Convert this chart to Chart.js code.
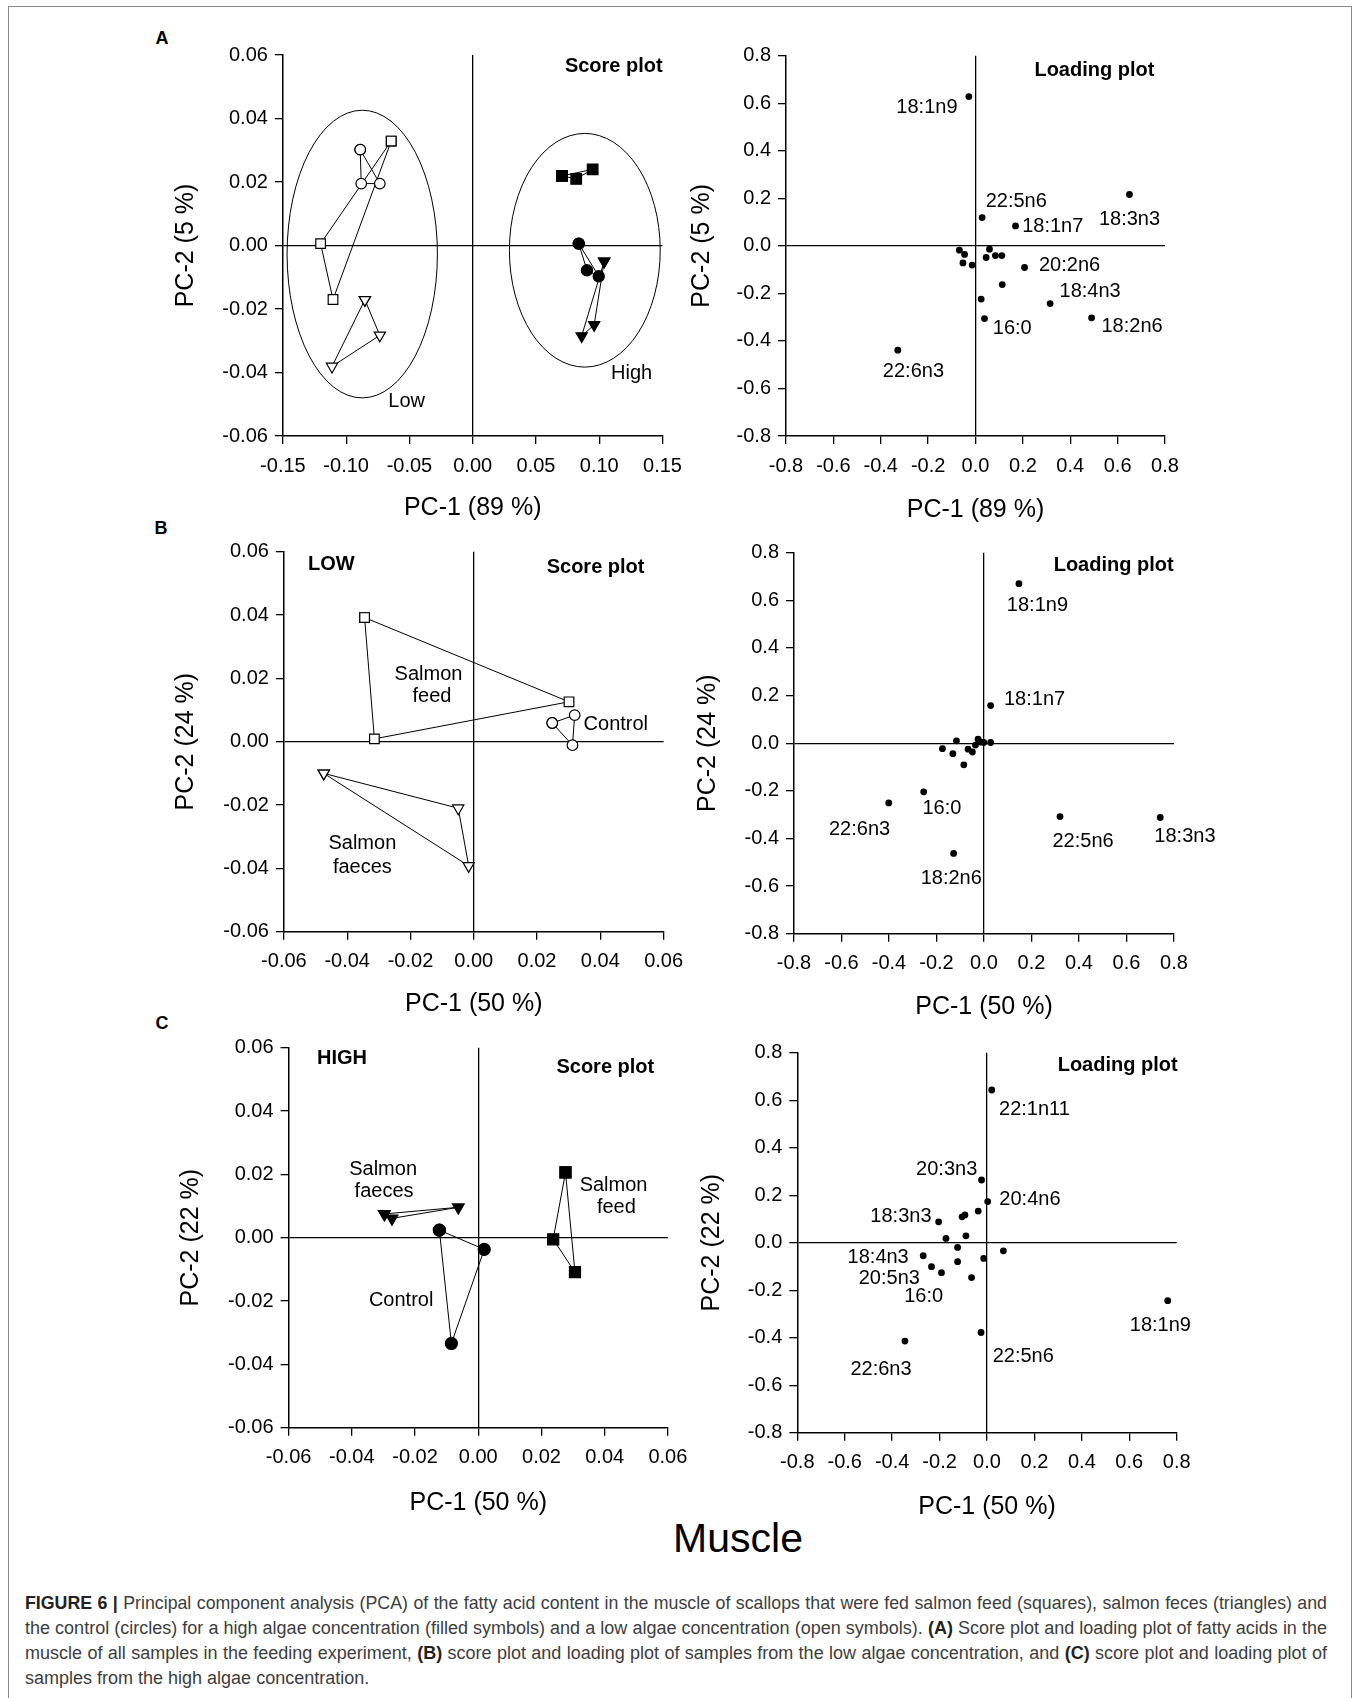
<!DOCTYPE html>
<html><head><meta charset="utf-8">
<script src="https://cdn.jsdelivr.net/npm/chart.js@4.4.1/dist/chart.umd.min.js"></script>
<style>
html,body{margin:0;padding:0;background:#fff;}
#page{position:relative;width:1362px;height:1698px;overflow:hidden;font-family:"Liberation Sans",Arial,sans-serif;background:#fff;}
canvas{position:absolute;}
.frame{position:absolute;left:8px;top:6px;width:1344px;height:1720px;border:1.5px solid #8a8a8a;box-sizing:border-box;}
.letter{position:absolute;font-weight:bold;font-size:18px;transform:translate(-50%,-50%);color:#000;}
.muscle{position:absolute;font-size:41px;left:738px;top:1538px;transform:translate(-50%,-50%);white-space:nowrap;color:#000;}
.cap{position:absolute;left:25px;width:1302px;font-size:18px;line-height:25px;color:#3d3d3d;text-align:justify;text-align-last:justify;}
.cap.last{text-align:left;text-align-last:left;}
.cap b{color:#222;}
</style></head>
<body>
<div id="page">
<div class="frame"></div>
<div class="letter" style="left:162px;top:38px">A</div>
<div class="letter" style="left:161px;top:528px">B</div>
<div class="letter" style="left:162px;top:1023px">C</div>
<div class="muscle">Muscle</div>
<div class="cap" style="top:1591px"><b>FIGURE 6 |</b> Principal component analysis (PCA) of the fatty acid content in the muscle of scallops that were fed salmon feed (squares), salmon feces (triangles) and</div>
<div class="cap" style="top:1616px">the control (circles) for a high algae concentration (filled symbols) and a low algae concentration (open symbols). <b>(A)</b> Score plot and loading plot of fatty acids in the</div>
<div class="cap" style="top:1641px">muscle of all samples in the feeding experiment, <b>(B)</b> score plot and loading plot of samples from the low algae concentration, and <b>(C)</b> score plot and loading plot of</div>
<div class="cap last" style="top:1666px">samples from the high algae concentration.</div>
</div>
<script>
// ================= DATA =================
// Tick values
const scoreATicksX = [-0.15, -0.10, -0.05, 0.00, 0.05, 0.10, 0.15];
const scoreTicksY = [-0.06, -0.04, -0.02, 0.00, 0.02, 0.04, 0.06];
const scoreBCTicksX = [-0.06, -0.04, -0.02, 0.00, 0.02, 0.04, 0.06];
const loadTicks = [-0.8, -0.6, -0.4, -0.2, 0.0, 0.2, 0.4, 0.6, 0.8];

// Panel A score plot (all samples): Low (open) and High (filled)
const A_feedLowX = [-0.0644, -0.1202, -0.1104];
const A_feedLowY = [0.0329, 0.0006, -0.0170];
const A_ctrlLowX = [-0.0889, -0.0881, -0.0734];
const A_ctrlLowY = [0.0302, 0.0195, 0.0195];
const A_faecLowX = [-0.0852, -0.0734, -0.1112];
const A_faecLowY = [-0.0171, -0.0283, -0.0381];
const A_feedHighX = [0.0706, 0.0818, 0.0948];
const A_feedHighY = [0.0219, 0.0210, 0.0240];
const A_ctrlHighX = [0.0838, 0.0903, 0.0996];
const A_ctrlHighY = [0.0006, -0.0078, -0.0097];
const A_faecHighX = [0.1039, 0.0861, 0.0960];
const A_faecHighY = [-0.0050, -0.0285, -0.0250];
// Group ellipses (Low, High)
const A_ellCX = [-0.0873, 0.0886];
const A_ellCY = [-0.0027, -0.0015];
const A_ellRX = [0.0594, 0.0596];
const A_ellRY = [0.0453, 0.0368];

// Panel A loading plot
const A_loadX = [-0.028, 0.028, 0.169, 0.650, -0.068, -0.046, -0.053, -0.014, 0.059, 0.045, 0.084, 0.111, 0.207, 0.113, 0.024, 0.038, 0.315, 0.490, -0.328];
const A_loadY = [0.628, 0.119, 0.084, 0.216, -0.018, -0.036, -0.072, -0.081, -0.014, -0.049, -0.041, -0.041, -0.091, -0.163, -0.224, -0.306, -0.243, -0.303, -0.439];
const A_loadLabels = ["18:1n9", "22:5n6", "18:1n7", "18:3n3", "20:2n6", "18:4n3", "16:0", "18:2n6", "22:6n3"];
const A_loadLabelX = [-0.205, 0.172, 0.326, 0.650, 0.397, 0.484, 0.155, 0.661, -0.262];
const A_loadLabelY = [0.582, 0.185, 0.083, 0.111, -0.081, -0.194, -0.348, -0.341, -0.530];

// Panel B score plot (low algae, open symbols)
const B_feedX = [-0.0345, 0.0301, -0.0314];
const B_feedY = [0.0392, 0.0126, 0.0009];
const B_ctrlX = [0.0248, 0.0319, 0.0312];
const B_ctrlY = [0.0059, 0.0084, -0.0011];
const B_faecX = [-0.0474, -0.0049, -0.0016];
const B_faecY = [-0.0100, -0.0210, -0.0392];

// Panel B loading plot
const B_loadX = [0.147, 0.028, -0.116, -0.175, -0.131, -0.067, -0.049, -0.036, -0.025, -0.015, -0.001, 0.028, -0.085, -0.254, -0.401, -0.128, 0.320, 0.742];
const B_loadY = [0.670, 0.158, 0.010, -0.023, -0.044, -0.025, -0.037, -0.008, 0.017, 0.005, 0.003, 0.003, -0.091, -0.204, -0.251, -0.463, -0.308, -0.312];
const B_loadLabels = ["18:1n9", "18:1n7", "16:0", "22:6n3", "18:2n6", "22:5n6", "18:3n3"];
const B_loadLabelX = [0.225, 0.213, -0.177, -0.524, -0.138, 0.417, 0.846];
const B_loadLabelY = [0.577, 0.185, -0.274, -0.361, -0.568, -0.414, -0.392];

// Panel C score plot (high algae, filled symbols)
const C_feedX = [0.0276, 0.0237, 0.0306];
const C_feedY = [0.0206, -0.0005, -0.0109];
const C_ctrlX = [-0.0123, 0.0019, -0.0085];
const C_ctrlY = [0.0024, -0.0037, -0.0334];
const C_faecX = [-0.0297, -0.0273, -0.0063];
const C_faecY = [0.0075, 0.0061, 0.0096];

// Panel C loading plot
const C_loadX = [0.020, -0.023, 0.003, -0.037, -0.105, -0.093, -0.204, -0.173, -0.089, -0.124, 0.069, -0.269, -0.124, -0.014, -0.234, -0.192, -0.065, -0.025, -0.346, 0.762];
const C_loadY = [0.643, 0.264, 0.173, 0.133, 0.109, 0.117, 0.088, 0.018, 0.029, -0.020, -0.034, -0.055, -0.080, -0.066, -0.101, -0.126, -0.147, -0.378, -0.414, -0.244];
const C_loadLabels = ["22:1n11", "20:3n3", "20:4n6", "18:3n3", "18:4n3", "20:5n3", "16:0", "22:6n3", "22:5n6", "18:1n9"];
const C_loadLabelX = [0.200, -0.170, 0.181, -0.363, -0.459, -0.412, -0.267, -0.447, 0.153, 0.731];
const C_loadLabelY = [0.561, 0.310, 0.180, 0.112, -0.063, -0.150, -0.227, -0.532, -0.477, -0.347];

// ================= RENDERING =================
const FONT = '"Liberation Sans", Arial, sans-serif';
const page = document.getElementById('page');
function fmt(d) { return v => (Math.abs(v) < 1e-9 ? 0 : v).toFixed(d); }
function pts(xs, ys) { return xs.map((x, i) => ({x: x, y: ys[i]})); }
function closed(xs, ys) { const p = pts(xs, ys); return p.concat([p[0]]); }
function labelItems(texts, xs, ys, bold) { return texts.map((t, i) => ({t: t, x: xs[i], y: ys[i], bold: !!bold})); }

function textPlugin(items) {
  return { id: 'panelText', afterDatasetsDraw(chart) {
    const ctx = chart.ctx, sx = chart.scales.x, sy = chart.scales.y;
    ctx.save(); ctx.fillStyle = '#000'; ctx.textAlign = 'center'; ctx.textBaseline = 'middle';
    items.forEach(it => {
      ctx.font = (it.bold ? 'bold ' : '') + '20px ' + FONT;
      ctx.fillText(it.t, sx.getPixelForValue(it.x), sy.getPixelForValue(it.y));
    });
    ctx.restore();
  }};
}
function ellipsePlugin(cx, cy, rx, ry) {
  return { id: 'ellipses', beforeDatasetsDraw(chart) {
    const ctx = chart.ctx, sx = chart.scales.x, sy = chart.scales.y;
    ctx.save(); ctx.strokeStyle = '#000'; ctx.lineWidth = 1;
    cx.forEach((c, i) => {
      const px = sx.getPixelForValue(c), py = sy.getPixelForValue(cy[i]);
      const prx = Math.abs(sx.getPixelForValue(c + rx[i]) - px);
      const pry = Math.abs(sy.getPixelForValue(cy[i] + ry[i]) - py);
      ctx.beginPath(); ctx.ellipse(px, py, prx, pry, 0, 0, Math.PI * 2); ctx.stroke();
    });
    ctx.restore();
  }};
}
function groupDS(xs, ys, style, filled, r) {
  return { data: closed(xs, ys), showLine: true, borderColor: '#000', borderWidth: 1,
    pointStyle: style, pointRotation: style === 'triangle' ? 180 : 0,
    pointRadius: r, pointHoverRadius: r, pointBackgroundColor: filled ? '#000' : '#fff',
    pointBorderColor: '#000', pointBorderWidth: 1.2, fill: false, tension: 0 };
}
function loadDS(xs, ys) {
  return { data: pts(xs, ys), showLine: false, pointStyle: 'circle', pointRadius: 3.4, pointHoverRadius: 3.4,
    pointBackgroundColor: '#000', pointBorderColor: '#000', pointBorderWidth: 0 };
}

function makePanel(p) {
  const a = p.area;
  const L = Math.round(a.x0 - 160), T = Math.round(a.y0 - 30);
  const W = Math.round(a.x1 + 60 - L), H = Math.round(a.y1 + 90 - T);
  const yW = a.x0 - L, xH = T + H - a.y1, padTop = a.y0 - T, padRight = L + W - a.x1;
  const cv = document.createElement('canvas');
  cv.width = W; cv.height = H;
  cv.style.left = L + 'px'; cv.style.top = T + 'px'; cv.style.width = W + 'px'; cv.style.height = H + 'px';
  page.appendChild(cv);
  const yTitlePad = p.yTitleX - L - 15;
  const xTitlePad = Math.max(0, T + H - 15 - p.xTitleY);
  const axis = (ticks, dec, title, isX) => ({
    type: 'linear', position: isX ? 'bottom' : 'left',
    min: ticks[0], max: ticks[ticks.length - 1],
    afterBuildTicks: s => { s.ticks = ticks.map(v => ({value: v})); },
    afterFit: s => { if (isX) s.height = xH; else s.width = yW; },
    ticks: { callback: fmt(dec), color: '#000', font: {family: FONT, size: 20}, padding: isX ? 10 : 7,
      autoSkip: false, maxRotation: 0, minRotation: 0 },
    grid: { drawOnChartArea: true, drawTicks: true, tickLength: 8, tickColor: '#000', tickWidth: 1.3, lineWidth: 1.3,
      color: c => (c.tick && Math.abs(c.tick.value) < 1e-9) ? '#000' : 'rgba(0,0,0,0)' },
    border: { display: true, color: '#000', width: 1.5 },
    title: { display: true, text: title, color: '#000', font: {family: FONT, size: 25},
      padding: isX ? {top: 0, bottom: xTitlePad} : {top: yTitlePad, bottom: 0} }
  });
  const plugins = [textPlugin(p.labels)];
  if (p.ellipses) plugins.unshift(p.ellipses);
  return new Chart(cv, {
    type: 'scatter',
    data: { datasets: p.datasets },
    options: {
      responsive: false, animation: false, devicePixelRatio: 1, events: [],
      layout: { padding: {left: 0, top: padTop, right: padRight, bottom: 0} },
      plugins: { legend: {display: false}, tooltip: {enabled: false}, title: {display: false} },
      scales: { x: axis(p.xTicks, p.xDec, p.xTitle, true), y: axis(p.yTicks, p.yDec, p.yTitle, false) }
    },
    plugins: plugins
  });
}

// Panel A score
makePanel({
  area: {x0: 282.9, x1: 662.5, y0: 55, y1: 436}, yTitleX: 185.7, xTitleY: 508,
  xTicks: scoreATicksX, yTicks: scoreTicksY, xDec: 2, yDec: 2, xTitle: 'PC-1 (89 %)', yTitle: 'PC-2 (5 %)',
  datasets: [
    groupDS(A_ctrlLowX, A_ctrlLowY, 'circle', false, 5.3),
    groupDS(A_feedLowX, A_feedLowY, 'rect', false, 6.8),
    groupDS(A_faecLowX, A_faecLowY, 'triangle', false, 6.5),
    groupDS(A_ctrlHighX, A_ctrlHighY, 'circle', true, 5.6),
    groupDS(A_feedHighX, A_feedHighY, 'rect', true, 7.5),
    groupDS(A_faecHighX, A_faecHighY, 'triangle', true, 6.5)
  ],
  ellipses: ellipsePlugin(A_ellCX, A_ellCY, A_ellRX, A_ellRY),
  labels: labelItems(['Low', 'High'], [-0.0522, 0.1256], [-0.0492, -0.0403])
    .concat(labelItems(['Score plot'], [0.1115], [0.0563], true))
});
// Panel A loading
makePanel({
  area: {x0: 786, x1: 1165, y0: 55.7, y1: 436}, yTitleX: 701.7, xTitleY: 510,
  xTicks: loadTicks, yTicks: loadTicks, xDec: 1, yDec: 1, xTitle: 'PC-1 (89 %)', yTitle: 'PC-2 (5 %)',
  datasets: [loadDS(A_loadX, A_loadY)],
  labels: labelItems(A_loadLabels, A_loadLabelX, A_loadLabelY)
    .concat(labelItems(['Loading plot'], [0.502], [0.736], true))
});
// Panel B score
makePanel({
  area: {x0: 283.9, x1: 663.6, y0: 551.7, y1: 931.7}, yTitleX: 185.7, xTitleY: 1004,
  xTicks: scoreBCTicksX, yTicks: scoreTicksY, xDec: 2, yDec: 2, xTitle: 'PC-1 (50 %)', yTitle: 'PC-2 (24 %)',
  datasets: [
    groupDS(B_ctrlX, B_ctrlY, 'circle', false, 5.3),
    groupDS(B_feedX, B_feedY, 'rect', false, 6.8),
    groupDS(B_faecX, B_faecY, 'triangle', false, 6.5)
  ],
  labels: labelItems(['Salmon', 'feed', 'Control', 'Salmon', 'faeces'],
      [-0.0143, -0.0132, 0.0449, -0.0352, -0.0352], [0.0213, 0.0144, 0.0055, -0.0322, -0.0396])
    .concat(labelItems(['LOW', 'Score plot'], [-0.0450, 0.0385], [0.0560, 0.0549], true))
});
// Panel B loading
makePanel({
  area: {x0: 794, x1: 1174, y0: 552.7, y1: 933.7}, yTitleX: 708.3, xTitleY: 1007,
  xTicks: loadTicks, yTicks: loadTicks, xDec: 1, yDec: 1, xTitle: 'PC-1 (50 %)', yTitle: 'PC-2 (24 %)',
  datasets: [loadDS(B_loadX, B_loadY)],
  labels: labelItems(B_loadLabels, B_loadLabelX, B_loadLabelY)
    .concat(labelItems(['Loading plot'], [0.546], [0.745], true))
});
// Panel C score
makePanel({
  area: {x0: 288.6, x1: 667.9, y0: 1047.7, y1: 1427.7}, yTitleX: 191, xTitleY: 1503,
  xTicks: scoreBCTicksX, yTicks: scoreTicksY, xDec: 2, yDec: 2, xTitle: 'PC-1 (50 %)', yTitle: 'PC-2 (22 %)',
  datasets: [
    groupDS(C_ctrlX, C_ctrlY, 'circle', true, 6),
    groupDS(C_feedX, C_feedY, 'rect', true, 7.8),
    groupDS(C_faecX, C_faecY, 'triangle', true, 6.8)
  ],
  labels: labelItems(['Salmon', 'faeces', 'Control', 'Salmon', 'feed'],
      [-0.0301, -0.0298, -0.0244, 0.0428, 0.0437], [0.0216, 0.0145, -0.0197, 0.0166, 0.0096])
    .concat(labelItems(['HIGH', 'Score plot'], [-0.0431, 0.0402], [0.0566, 0.0538], true))
});
// Panel C loading
makePanel({
  area: {x0: 797.3, x1: 1176.7, y0: 1052.7, y1: 1432.7}, yTitleX: 711.7, xTitleY: 1506.7,
  xTicks: loadTicks, yTicks: loadTicks, xDec: 1, yDec: 1, xTitle: 'PC-1 (50 %)', yTitle: 'PC-2 (22 %)',
  datasets: [loadDS(C_loadX, C_loadY)],
  labels: labelItems(C_loadLabels, C_loadLabelX, C_loadLabelY)
    .concat(labelItems(['Loading plot'], [0.551], [0.748], true))
});

// keep caption lines on one line each
document.querySelectorAll('.cap').forEach(el => {
  let fs = 18;
  while (el.getBoundingClientRect().height > 30 && fs > 12) { fs -= 0.25; el.style.fontSize = fs + 'px'; }
});
</script>
</body></html>
